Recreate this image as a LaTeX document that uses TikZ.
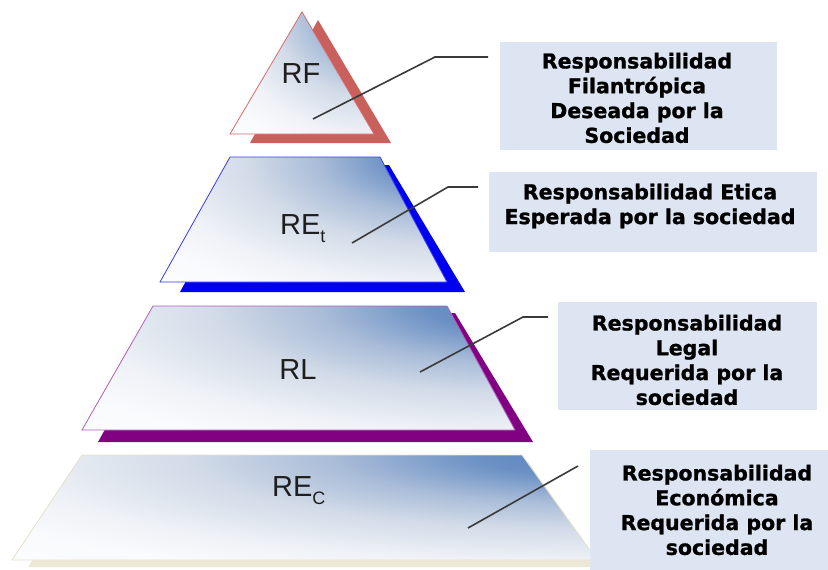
\documentclass[tikz,border=0pt]{standalone}
\usepackage{fontspec}
\setmainfont{Liberation Sans}
\newfontfamily\boxfont{DejaVu Sans}[FakeBold=1.2]
\definecolor{shA}{HTML}{5A85BF}
\definecolor{shB}{HTML}{6A90C4}
\definecolor{shC}{HTML}{A9BCD8}
\definecolor{shD}{HTML}{D2DBE8}
\definecolor{shE}{HTML}{EEF1F6}
\definecolor{shF}{HTML}{FAFBFD}
\definecolor{boxfill}{HTML}{DCE5F1}
\definecolor{rfshadow}{HTML}{C9605C}
\definecolor{rfline}{HTML}{D86A6A}
\definecolor{etshadow}{HTML}{0000F0}
\definecolor{etline}{HTML}{3A3AFF}
\definecolor{rlshadow}{HTML}{820082}
\definecolor{rlline}{HTML}{B060B8}
\definecolor{ecshadow}{HTML}{ECE8D6}
\definecolor{ecline}{HTML}{E6E1CC}
\definecolor{leadcol}{HTML}{3A3A3A}
\definecolor{labcol}{HTML}{1E1E1E}
\pgfdeclareradialshading{pyrrad}{\pgfpoint{0bp}{0bp}}{color(0bp)=(shA); color(5bp)=(shB); color(11.25bp)=(shC); color(17.5bp)=(shD); color(25bp)=(shE); color(31bp)=(shF); color(50bp)=(white)}
% #1 path, #2 corner x, #3 corner y, #4 W, #5 H
\newcommand\pyrface[5]{%
  \begin{scope}
    \clip #1;
    \shade[shading=pyrrad] ({#2-#4},{#3-#5}) rectangle ({#2+#4},{#3+#5});
  \end{scope}}
\tikzset{
  lab/.style={font=\fontsize{29}{29}\selectfont, text=labcol, inner sep=0pt},
  leader/.style={draw=leadcol, line width=1.6pt},
  infobox/.style={fill=boxfill, draw=none, inner sep=0pt},
  infotext/.style={font=\boxfont\bfseries\fontsize{20.5}{24.8}\selectfont, align=center, inner sep=0pt, text=black}
}
\begin{document}
\begin{tikzpicture}[x=1pt,y=-1pt]
\useasboundingbox (0,0) rectangle (828,570);
\fill[white] (0,0) rectangle (828,570);

% ---- RE_c (bottom) ----
\fill[ecshadow] (95,462) -- (528,462) -- (602,567) -- (28,567) -- cycle;
\pyrface{(82,455) -- (522,455) -- (597,560) -- (12,560) -- cycle}{597}{455}{585}{105}
\draw[ecline, line width=0.8pt] (82,455) -- (522,455) -- (597,560) -- (12,560) -- cycle;

% ---- RL ----
\fill[rlshadow] (170,313) -- (455,313) -- (533,442) -- (98,442) -- cycle;
\pyrface{(153,306) -- (447,306) -- (515,430) -- (82,430) -- cycle}{515}{306}{433}{124}
\draw[rlline, line width=0.8pt] (153,306) -- (447,306) -- (515,430) -- (82,430) -- cycle;

% ---- RE_t ----
\fill[etshadow] (250,165) -- (389,165) -- (465,292) -- (180,292) -- cycle;
\pyrface{(230,157) -- (380,157) -- (447,282) -- (160,282) -- cycle}{447}{157}{287}{125}
\draw[etline, line width=0.8pt] (230,157) -- (380,157) -- (447,282) -- (160,282) -- cycle;

% ---- RF ----
\fill[rfshadow] (318,20) -- (391,143) -- (250,143) -- cycle;
\pyrface{(302,12) -- (374,134) -- (230,134) -- cycle}{374}{12}{144}{122}
\draw[rfline, line width=0.8pt] (302,12) -- (374,134) -- (230,134) -- cycle;

% ---- labels ----
\node[lab] (lrf) at (301,74) {RF};
\node[lab, anchor=west] (let) at (280,229) {RE\raisebox{-0.28em}{\fontsize{18}{18}\selectfont t}};
\node[lab] (lrl) at (298,370) {RL};
\node[lab, anchor=west] (lec) at (272,491) {RE\raisebox{-0.28em}{\fontsize{18}{18}\selectfont C}};

% ---- boxes ----
\node[infobox, minimum width=277pt, minimum height=108pt] (b1) at (638.5,96) {};
\node[infobox, minimum width=328pt, minimum height=80pt] (b2) at (653,212) {};
\node[infobox, minimum width=259pt, minimum height=108pt] (b3) at (687.5,356) {};
\node[infobox, minimum width=238pt, minimum height=120pt] (b4) at (709,510) {};

\node[infotext] (t1) at (637,98) {Responsabilidad\\Filantrópica\\Deseada por la\\Sociedad};
\node[infotext] (t2) at (650,206) {Responsabilidad Etica\\Esperada por la sociedad};
\node[infotext] (t3) at (687,360) {Responsabilidad\\Legal\\Requerida por la\\sociedad};
\node[infotext] (t4) at (717,510) {Responsabilidad\\Económica\\Requerida por la\\sociedad};

% ---- leader lines ----
\coordinate (rfa) at (313,119);
\coordinate (rfb) at (435,57);
\coordinate (rfc) at (488,57);
\draw[leader] (rfa) -- (rfb) -- (rfc);

\coordinate (eta) at (352,243);
\coordinate (etb) at (448,187);
\coordinate (etc) at (478,187);
\draw[leader] (eta) -- (etb) -- (etc);

\coordinate (rla) at (420,372);
\coordinate (rlb) at (523,317);
\coordinate (rlc) at (548,317);
\draw[leader] (rla) -- (rlb) -- (rlc);

\coordinate (eca) at (468,528);
\coordinate (ecb) at (578,466);
\draw[leader] (eca) -- (ecb);
\end{tikzpicture}
\end{document}
